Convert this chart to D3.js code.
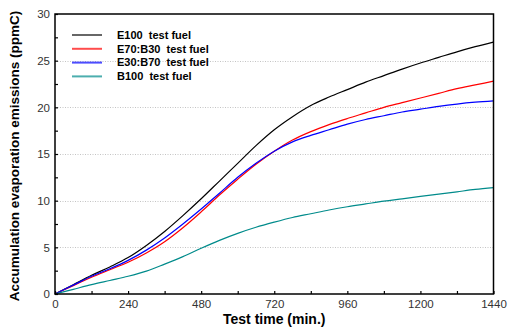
<!DOCTYPE html>
<html>
<head>
<meta charset="utf-8">
<script src="https://cdn.jsdelivr.net/npm/d3@7"></script>
<style>
  body { margin: 0; background: #fff; }
  svg { display: block; font-family: Arial, "Liberation Sans", sans-serif; }
</style>
</head>
<body>
<div id="chart"></div>
<script>
const times = [0, 60, 120, 180, 240, 300, 360, 420, 480, 540, 600, 660, 720, 780, 840, 900, 960, 1020, 1080, 1140, 1200, 1260, 1320, 1380, 1440]

const e100 = [0, 1.0, 2.0, 2.9, 3.9, 5.2, 6.7, 8.4, 10.2, 12.1, 14.0, 15.9, 17.6, 19.0, 20.2, 21.1, 21.9, 22.7, 23.4, 24.1, 24.75, 25.35, 25.95, 26.5, 27.0]
const e70b30 = [0, 0.9, 1.8, 2.6, 3.4, 4.4, 5.6, 7.1, 8.8, 10.6, 12.3, 13.9, 15.3, 16.5, 17.4, 18.15, 18.8, 19.4, 20.0, 20.5, 21.0, 21.5, 22.0, 22.4, 22.8]
const e30b70 = [0, 0.95, 1.9, 2.7, 3.6, 4.7, 6.0, 7.5, 9.1, 10.8, 12.5, 14.0, 15.3, 16.3, 17.0, 17.6, 18.2, 18.7, 19.1, 19.5, 19.8, 20.1, 20.35, 20.55, 20.7]
const b100 = [0, 0.5, 1.0, 1.45, 1.9, 2.45, 3.2, 4.0, 4.9, 5.75, 6.5, 7.15, 7.7, 8.2, 8.6, 9.0, 9.35, 9.65, 9.95, 10.2, 10.45, 10.7, 10.95, 11.2, 11.4]

const seriesNames = ["E100  test fuel", "E70:B30  test fuel", "E30:B70  test fuel", "B100  test fuel"]
const seriesColors = ["#000000", "#ff0000", "#0000ff", "#008b8b"]
const seriesValues = [e100, e70b30, e30b70, b100]

const xTicks = [0, 240, 480, 720, 960, 1200, 1440]
const yTicks = [0, 5, 10, 15, 20, 25, 30]
const gridVals = [5, 10, 15, 20, 25]

const W = 509
const H = 329
const m = { left: 55, right: 15, top: 14, bottom: 35 }

const svg = d3.select("#chart").append("svg").attr("width", W).attr("height", H)

const x = d3.scaleLinear().domain([0, 1440]).range([m.left, W - m.right - 0.5])
const y = d3.scaleLinear().domain([0, 30]).range([H - m.bottom, m.top])

// dotted grid
svg.append("g")
  .selectAll("line")
  .data(gridVals)
  .enter()
  .append("line")
  .attr("x1", x(0))
  .attr("x2", x(1440))
  .attr("y1", (d) => Math.round(y(d)) + 0.5)
  .attr("y2", (d) => Math.round(y(d)) + 0.5)
  .attr("stroke", "#c4c4c4")
  .attr("stroke-dasharray", "1,1.5")

// curves
const line = d3.line()
  .x((d, i) => x(times[i]))
  .y((d) => y(d))
  .curve(d3.curveMonotoneX)

svg.append("g")
  .selectAll("path")
  .data(seriesValues)
  .enter()
  .append("path")
  .attr("d", line)
  .attr("fill", "none")
  .attr("stroke", (d, i) => seriesColors[i])
  .attr("stroke-width", 1.2)

// frame
svg.append("rect")
  .attr("x", x(0))
  .attr("y", y(30))
  .attr("width", x(1440) - x(0))
  .attr("height", y(0) - y(30))
  .attr("fill", "none")
  .attr("stroke", "#000")
  .attr("stroke-width", 1.5)

// axes with inward ticks
const xAxis = d3.axisBottom(x).tickValues(d3.range(0, 1441, 120)).tickSize(-3)
  .tickFormat((d) => (xTicks.includes(d) ? d : ""))
const gx = svg.append("g").attr("transform", `translate(0,${y(0)})`).call(xAxis)
gx.select(".domain").remove()
gx.selectAll("line").attr("stroke-width", 1.2)
gx.selectAll("text").attr("y", 6).attr("dy", "0.71em")
  .attr("font-size", 11.5).attr("fill", "#333").attr("font-family", "Arial, Liberation Sans, sans-serif")

const yAxis = d3.axisLeft(y).tickValues(d3.range(0, 30.1, 2.5)).tickSize(-3)
  .tickFormat((d) => (yTicks.includes(d) ? d : ""))
const gy = svg.append("g").attr("transform", `translate(${x(0)},0)`).call(yAxis)
gy.select(".domain").remove()
gy.selectAll("line").attr("stroke-width", 1.2)
gy.selectAll("text").attr("x", -5)
  .attr("font-size", 11.5).attr("fill", "#333").attr("font-family", "Arial, Liberation Sans, sans-serif")

// axis titles
svg.append("text")
  .attr("x", (x(0) + x(1440)) / 2)
  .attr("y", 324)
  .attr("text-anchor", "middle")
  .attr("font-weight", "bold")
  .attr("font-size", 14)
  .text("Test time (min.)")

svg.append("text")
  .attr("transform", `translate(19,${(y(0) + y(30)) / 2 + 2}) rotate(-90)`)
  .attr("text-anchor", "middle")
  .attr("font-weight", "bold")
  .attr("font-size", 13.5)
  .text("Accumulation evaporation emissions (ppmC)")

// legend
const legend = svg.append("g")
const rows = legend.selectAll("g")
  .data(seriesNames)
  .enter()
  .append("g")
  .attr("transform", (d, i) => `translate(0,${35 + i * 13.8})`)

rows.append("line")
  .attr("x1", 72)
  .attr("x2", 102)
  .attr("stroke", (d, i) => seriesColors[i])
  .attr("stroke-width", (d, i) => (i == 0 ? 1.2 : 2))
  .attr("stroke-opacity", (d, i) => (i == 0 ? 1 : 0.7))

rows.append("text")
  .attr("x", 117)
  .attr("dy", "0.35em")
  .attr("font-weight", "bold")
  .attr("font-size", 11)
  .style("white-space", "pre")
  .text((d) => d)
</script>
</body>
</html>
